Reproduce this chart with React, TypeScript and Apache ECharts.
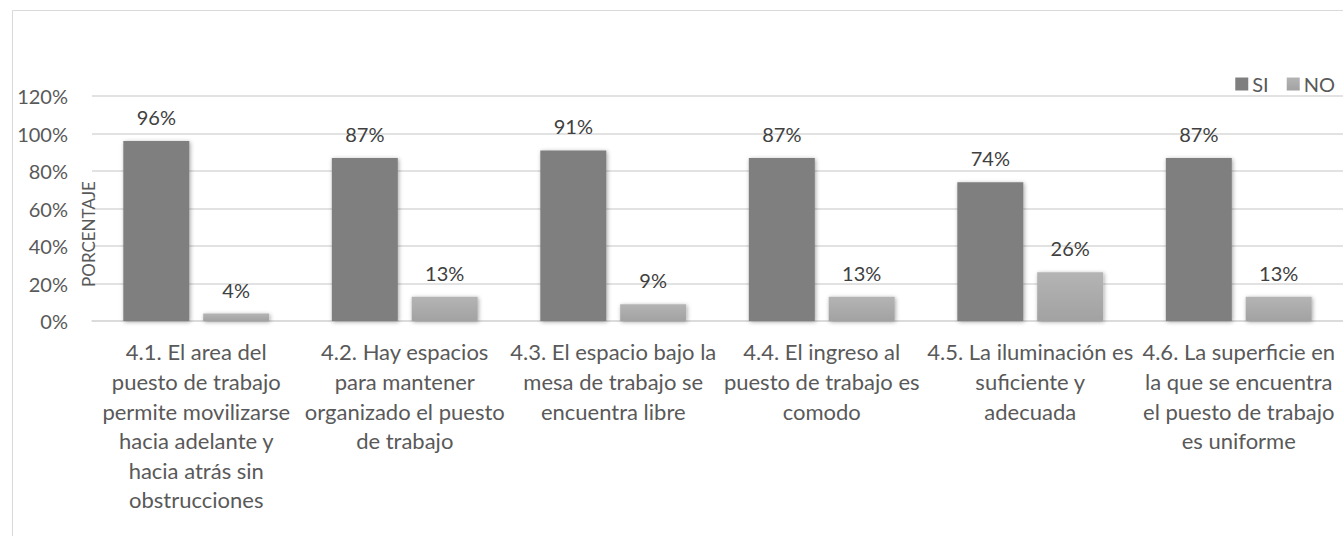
import React, { useEffect, useRef } from "react";
import * as echarts from "echarts";

const categories = [
  "4.1. El area del\npuesto de trabajo\npermite movilizarse\nhacia adelante y\nhacia atrás sin\nobstrucciones",
  "4.2. Hay espacios\npara mantener\norganizado el puesto\nde trabajo",
  "4.3. El espacio bajo la\nmesa de trabajo se\nencuentra libre",
  "4.4. El ingreso al\npuesto de trabajo es\ncomodo",
  "4.5. La iluminación es\nsuficiente y\nadecuada",
  "4.6. La superficie en\nla que se encuentra\nel puesto de trabajo\nes uniforme",
];
const siValues = [96, 87, 91, 87, 74, 87];
const noValues = [4, 13, 9, 13, 26, 13];
const yTicks = { min: 0, max: 120, interval: 20 };
const yAxisName = "PORCENTAJE";

const FONT = "Lato, 'Open Sans', sans-serif";

export default function App() {
  const ref = useRef<HTMLDivElement>(null);
  useEffect(() => {
    if (!ref.current) return;
    const chart = echarts.init(ref.current, null, { renderer: "svg" });
    const barShadow = {
      shadowBlur: 4,
      shadowColor: "rgba(0,0,0,0.35)",
      shadowOffsetX: 1,
      shadowOffsetY: 1,
    };
    const labelStyle = {
      show: true,
      position: "top" as const,
      distance: 14,
      formatter: "{c}%",
      color: "#404040",
      fontSize: 20,
      fontFamily: FONT,
    };
    chart.setOption({
      animation: false,
      backgroundColor: "#ffffff",
      textStyle: { fontFamily: FONT },
      graphic: [
        {
          type: "rect",
          shape: { x: 12.5, y: 10.5, width: 1500, height: 700 },
          style: { fill: "none", stroke: "#d9d9d9", lineWidth: 1 },
          silent: true,
          z: -10,
        },
        {
          type: "text",
          x: 88,
          y: 234,
          rotation: Math.PI / 2,
          style: {
            text: yAxisName,
            fill: "#595959",
            font: `17px ${FONT}`,
            align: "center",
            verticalAlign: "middle",
          },
          z: 10,
        },
      ],
      legend: {
        data: ["SI", "NO"],
        right: 3,
        top: 69,
        itemWidth: 13,
        itemHeight: 13,
        itemGap: 18,
        icon: "rect",
        textStyle: { color: "#595959", fontSize: 20, fontFamily: FONT, padding: [0, 0, 0, -1] },
      },
      grid: { left: 92, right: 0, top: 96, bottom: 215, containLabel: false },
      xAxis: {
        type: "category",
        data: categories,
        axisLine: { lineStyle: { color: "#d9d9d9", width: 1.5 } },
        axisTick: { show: false },
        axisLabel: {
          interval: 0,
          hideOverlap: false,
          color: "#595959",
          fontSize: 22,
          fontFamily: FONT,
          lineHeight: 29.6,
          margin: 16,
          align: "center",
        },
      },
      yAxis: {
        type: "value",
        min: yTicks.min,
        max: yTicks.max,
        interval: yTicks.interval,
        axisLine: { show: false },
        axisTick: { show: false },
        axisLabel: {
          formatter: "{value}%",
          color: "#595959",
          fontSize: 20,
          fontFamily: FONT,
          margin: 24,
        },
        splitLine: { lineStyle: { color: "#d9d9d9", width: 1.5 } },
      },
      series: [
        {
          name: "SI",
          type: "bar",
          data: siValues,
          barWidth: 66,
          barGap: "21%",
          itemStyle: { color: "#7f7f7f", ...barShadow },
          label: labelStyle,
        },
        {
          name: "NO",
          type: "bar",
          data: noValues,
          barWidth: 66,
          itemStyle: {
            color: new echarts.graphic.LinearGradient(0, 0, 0, 1, [
              { offset: 0, color: "#b4b4b4" },
              { offset: 1, color: "#a2a2a2" },
            ]),
            ...barShadow,
          },
          label: labelStyle,
        },
      ],
    });
    return () => chart.dispose();
  }, []);
  return (
    <div
      ref={ref}
      style={{ position: "absolute", left: 0, top: 0, width: 1343, height: 536 }}
    />
  );
}
